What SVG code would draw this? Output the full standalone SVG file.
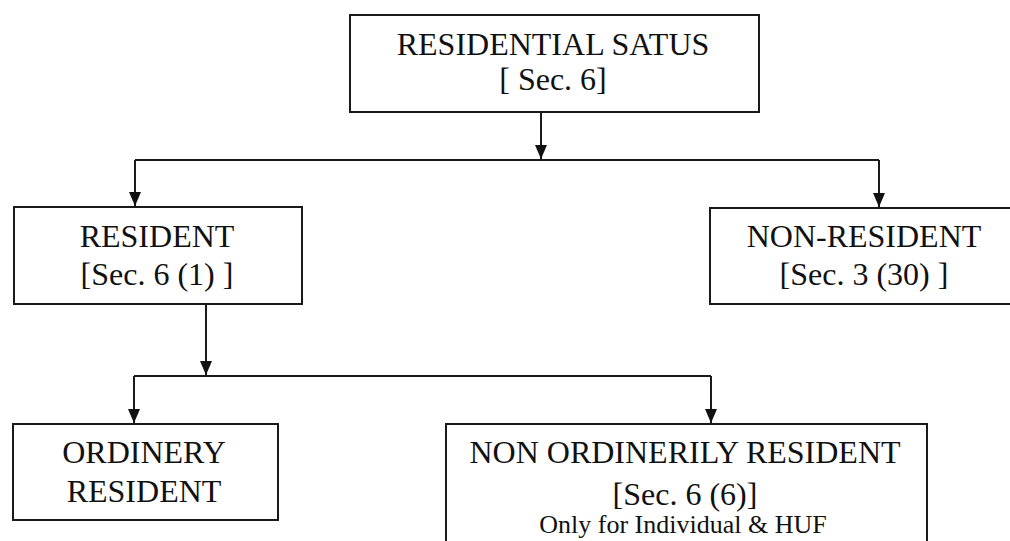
<svg xmlns="http://www.w3.org/2000/svg" width="1010" height="541" viewBox="0 0 1010 541">
  <style>
    .box { fill: #ffffff; stroke: #1a1a1a; stroke-width: 2; }
    .t { font-family: "Liberation Serif", "Times New Roman", serif; font-size: 32px; fill: #111111; text-anchor: middle; }
    .s { font-size: 26px; }
    .c { fill: none; stroke: #1a1a1a; stroke-width: 2; }
  </style>
  <defs>
    <marker id="arr" markerUnits="userSpaceOnUse" markerWidth="14" markerHeight="12" refX="14" refY="6" orient="auto">
      <path d="M0,0 L14,6 L0,12 z" fill="#111111"/>
    </marker>
  </defs>
  <rect width="1010" height="541" fill="#ffffff"/>

  <g id="connectors">
    <path class="c" d="M541,112 V159" marker-end="url(#arr)"/>
    <path class="c" d="M135,160 H879"/>
    <path class="c" d="M135,160 V206" marker-end="url(#arr)"/>
    <path class="c" d="M879,160 V207" marker-end="url(#arr)"/>
    <path class="c" d="M206,304 V375" marker-end="url(#arr)"/>
    <path class="c" d="M134,376 H711"/>
    <path class="c" d="M134,376 V423" marker-end="url(#arr)"/>
    <path class="c" d="M711,376 V423" marker-end="url(#arr)"/>
  </g>

  <g id="residential-status">
    <rect class="box" x="350" y="15" width="409" height="97"/>
    <text class="t" x="553" y="55">RESIDENTIAL SATUS</text>
    <text class="t" x="553" y="90">[ Sec. 6]</text>
  </g>

  <g id="resident">
    <rect class="box" x="14" y="207" width="288" height="97"/>
    <text class="t" x="157" y="247">RESIDENT</text>
    <text class="t" x="157" y="285">[Sec. 6 (1) ]</text>
  </g>

  <g id="non-resident">
    <rect class="box" x="710" y="208" width="310" height="96"/>
    <text class="t" x="864" y="247">NON-RESIDENT</text>
    <text class="t" x="864" y="285">[Sec. 3 (30) ]</text>
  </g>

  <g id="ordinery-resident">
    <rect class="box" x="13" y="424" width="265" height="96"/>
    <text class="t" x="144" y="463">ORDINERY</text>
    <text class="t" x="144" y="502">RESIDENT</text>
  </g>

  <g id="non-ordinerily-resident">
    <rect class="box" x="446" y="424" width="481" height="130"/>
    <text class="t" x="685" y="463">NON ORDINERILY RESIDENT</text>
    <text class="t" x="685" y="505">[Sec. 6 (6)]</text>
    <text class="t s" x="683" y="533">Only for Individual &amp; HUF</text>
  </g>
</svg>
